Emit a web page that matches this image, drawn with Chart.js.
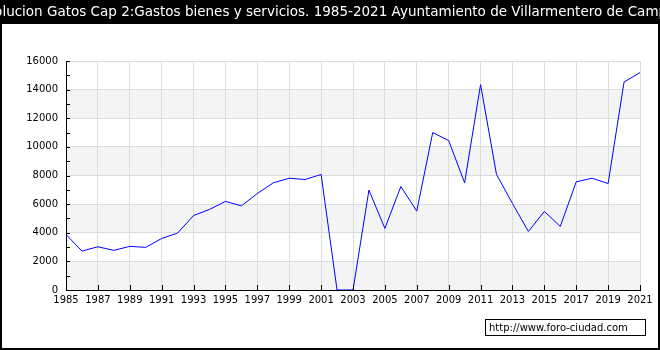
<!DOCTYPE html>
<html>
<head>
<meta charset="utf-8">
<script src="https://cdn.jsdelivr.net/npm/chart.js@4/dist/chart.umd.min.js"></script>
<style>
  html, body { margin: 0; padding: 0; background: #000; }
  #wrap { width: 660px; height: 350px; }
</style>
</head>
<body>
<div id="wrap"><canvas id="chart" width="660" height="350"></canvas></div>
<script>
const titleText = 'Evolucion Gatos Cap 2:Gastos bienes y servicios. 1985-2021 Ayuntamiento de Villarmentero de Campos'
const sourceText = 'http://www.foro-ciudad.com'

const years = [1985, 1986, 1987, 1988, 1989, 1990, 1991, 1992, 1993, 1994,
  1995, 1996, 1997, 1998, 1999, 2000, 2001, 2002, 2003, 2004,
  2005, 2006, 2007, 2008, 2009, 2010, 2011, 2012, 2013, 2014,
  2015, 2016, 2017, 2018, 2019, 2020, 2021]
const gastos = [3880, 2720, 3020, 2770, 3050, 2980, 3600, 3980, 5200, 5630,
  6190, 5880, 6740, 7490, 7810, 7720, 8070, 0, 0, 6980,
  4300, 7230, 5510, 11000, 10440, 7490, 14350, 8070, 6050, 4090,
  5490, 4440, 7560, 7810, 7440, 14530, 15190]

const yMin = 0
const yMax = 16000
const yStep = 2000
const yMinorStep = 1000
const xMin = 1985
const xMax = 2021
const xStep = 2

const font = 'DejaVu Sans'

// frame, title and background bands
const framePlugin = {
  id: 'frame',
  beforeDraw(chart) {
    const ctx = chart.ctx
    const { left, right } = chart.chartArea
    const y = chart.scales.y
    ctx.save()
    ctx.fillStyle = '#000'
    ctx.fillRect(0, 0, chart.width, chart.height)
    ctx.fillStyle = '#fff'
    ctx.fillRect(2, 24, chart.width - 4, chart.height - 26)

    ctx.fillStyle = '#fff'
    ctx.font = '13.5px "' + font + '"'
    ctx.textAlign = 'center'
    ctx.textBaseline = 'middle'
    ctx.fillText(titleText, chart.width / 2, 12)

    // alternating bands, grey from 0
    ctx.fillStyle = '#f4f4f4'
    for (let v = yMin; v < yMax; v += 2 * yStep) {
      const y1 = y.getPixelForValue(v)
      const y2 = y.getPixelForValue(v + yStep)
      ctx.fillRect(left, y2, right - left, y1 - y2)
    }
    ctx.restore()
  },
  afterDraw(chart) {
    const ctx = chart.ctx
    const { left, bottom } = chart.chartArea
    const x = chart.scales.x
    const y = chart.scales.y
    ctx.save()
    ctx.strokeStyle = '#000'
    ctx.lineWidth = 1
    ctx.beginPath()
    // inward ticks on y axis every 1000
    for (let v = yMin; v <= yMax; v += yMinorStep) {
      const py = Math.round(y.getPixelForValue(v)) + 0.5
      ctx.moveTo(left, py)
      ctx.lineTo(left + 4, py)
    }
    // inward ticks on x axis every 2 years
    for (let v = xMin; v <= xMax; v += xStep) {
      const px = Math.round(x.getPixelForValue(v)) + 0.5
      ctx.moveTo(px, bottom)
      ctx.lineTo(px, bottom - 5)
    }
    ctx.stroke()

    // source box
    ctx.fillStyle = '#fff'
    ctx.fillRect(485, 319, 160, 16)
    ctx.strokeRect(485.5, 319.5, 160, 16)
    ctx.fillStyle = '#000'
    ctx.font = '10px "' + font + '"'
    ctx.textAlign = 'left'
    ctx.textBaseline = 'middle'
    ctx.fillText(sourceText, 489, 328)
    ctx.restore()
  }
}

new Chart(document.getElementById('chart'), {
  type: 'line',
  data: {
    datasets: [{
      data: years.map((yr, i) => ({ x: yr, y: gastos[i] })),
      borderColor: '#0000ff',
      borderWidth: 1,
      pointRadius: 0,
      tension: 0,
      fill: false
    }]
  },
  options: {
    responsive: false,
    animation: false,
    layout: { padding: { top: 61, left: 0, right: 20, bottom: 0 } },
    plugins: {
      legend: { display: false },
      title: { display: false },
      tooltip: { enabled: false }
    },
    scales: {
      x: {
        type: 'linear',
        min: xMin,
        max: xMax,
        afterFit: (scale) => { scale.height = 60 },
        ticks: {
          stepSize: xStep,
          autoSkip: false,
          maxRotation: 0,
          padding: 4,
          color: '#000',
          font: { family: font, size: 10 },
          callback: (v) => String(v)
        },
        grid: { color: '#dcdcdc', drawTicks: false },
        border: { color: '#000', width: 1 }
      },
      y: {
        min: yMin,
        max: yMax,
        afterFit: (scale) => { scale.width = 66 },
        ticks: {
          stepSize: yStep,
          padding: 8,
          color: '#000',
          font: { family: font, size: 10 },
          callback: (v) => String(v)
        },
        grid: { color: '#dcdcdc', drawTicks: false },
        border: { color: '#000', width: 1 }
      }
    }
  },
  plugins: [framePlugin]
})
</script>
</body>
</html>
